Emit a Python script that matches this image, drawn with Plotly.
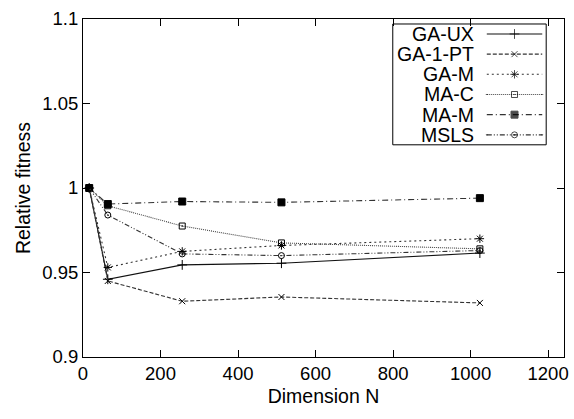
import plotly.graph_objects as go

dims = [16, 64, 256, 512, 1024]
ga_ux = [1.0, 0.946, 0.9545, 0.9555, 0.9615]
ga_1pt = [1.0, 0.945, 0.933, 0.9355, 0.932]
ga_m = [1.0, 0.953, 0.9625, 0.966, 0.970]
ma_c = [1.0, 0.9895, 0.9775, 0.9675, 0.964]
ma_m = [1.0, 0.9905, 0.992, 0.9915, 0.994]
msls = [1.0, 0.984, 0.961, 0.960, 0.963]

names = ["GA-UX", "GA-1-PT", "GA-M", "MA-C", "MA-M", "MSLS"]
series = [ga_ux, ga_1pt, ga_m, ma_c, ma_m, msls]
dashes = ["solid", "4px,2px", "2px,3px", "1px,1px", "6px,3px,1px,3px", "5px,2px,1px,2px,1px,2px"]
symbols = ["cross-thin-open", "x-thin-open", "asterisk-open", "square-open-dot", "square", "circle-open-dot"]
sizes = [7, 6, 7, 6, 7, 6]
colors = ["#111111", "#333333", "#333333", "#444444", "#333333", "#333333"]

FONT = "Liberation Sans, Arial, sans-serif"

fig = go.Figure()
for nm, ys, d, s, sz, c in zip(names, series, dashes, symbols, sizes, colors):
    fig.add_trace(go.Scatter(
        x=dims, y=ys, mode="lines+markers", name=nm, showlegend=False,
        line=dict(color=c, width=1.1, dash=d),
        marker=dict(symbol=s, size=sz, color="#000000", line=dict(color="#000000", width=1)),
    ))

# custom gnuplot-style legend (text left, sample right), in pixel-like overlay axes
L_LEFT, L_RIGHT, L_TOP, L_BOTTOM = 396, 551, 24, 145
ROW0, ROWH = 34, 20.2
TEXT_RIGHT, S_LEFT, S_RIGHT = 480, 491, 547
for i, (nm, d, s, sz, c) in enumerate(zip(names, dashes, symbols, sizes, colors)):
    yy = ROW0 + i * ROWH
    xm = (S_LEFT + S_RIGHT) / 2
    fig.add_trace(go.Scatter(
        x=[S_LEFT, xm, S_RIGHT], y=[yy, yy, yy], xaxis="x2", yaxis="y2",
        mode="lines+markers", showlegend=False, hoverinfo="skip",
        line=dict(color=c, width=1.1, dash=d),
        marker=dict(symbol=s, size=[0, sz, 0], color="#000000", line=dict(color="#000000", width=1)),
    ))
    fig.add_annotation(x=TEXT_RIGHT, y=yy, xref="x2", yref="y2", text=nm, showarrow=False,
                       xanchor="right", yanchor="middle", font=dict(family=FONT, size=19.5, color="#000"))
fig.add_shape(type="rect", xref="x2", yref="y2", x0=L_LEFT, x1=L_RIGHT, y0=L_TOP, y1=L_BOTTOM,
              line=dict(color="#000", width=1), fillcolor="rgba(0,0,0,0)")

axis_common = dict(showline=True, linecolor="#000", linewidth=1, mirror="allticks",
                   ticks="inside", ticklen=7, tickcolor="#000", showgrid=False, zeroline=False,
                   ticklabeloverflow="allow",
                   tickfont=dict(family=FONT, size=18.5, color="#000"))

fig.update_layout(
    width=574, height=419,
    margin=dict(l=83, r=5, t=19, b=61.5),
    paper_bgcolor="white", plot_bgcolor="white",
    xaxis=dict(range=[0, 1241], tickvals=[0, 200, 400, 600, 800, 1000, 1200],
               title=dict(text="Dimension N", font=dict(family=FONT, size=19.5, color="#000"), standoff=6),
               **axis_common),
    yaxis=dict(range=[0.9, 1.1], tickvals=[0.9, 0.95, 1.0, 1.05, 1.1],
               ticktext=["0.9", "0.95", "1", "1.05", "1.1"],
               title=dict(text="Relative fitness", font=dict(family=FONT, size=19.5, color="#000"), standoff=6),
               **axis_common),
    xaxis2=dict(overlaying="x", range=[83, 569], visible=False, fixedrange=True),
    yaxis2=dict(overlaying="y", range=[357.5, 19], visible=False, fixedrange=True),
)

fig.write_html("out.html")
